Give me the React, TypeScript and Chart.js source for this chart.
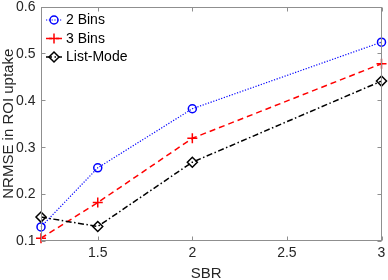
import React, { useEffect, useRef } from "react";
import { Chart, registerables } from "chart.js";

Chart.register(...registerables);

const sbr = [1.2, 1.5, 2, 3];
const twoBins = [0.13, 0.256, 0.382, 0.524];
const threeBins = [0.106, 0.182, 0.319, 0.478];
const listMode = [0.151, 0.131, 0.268, 0.441];
const xTicks = [1.5, 2, 2.5, 3];
const yTicks = [0.1, 0.2, 0.3, 0.4, 0.5, 0.6];
const xTickLabels = ["1.5", "2", "2.5", "3"];
const yTickLabels = ["0.1", "0.2", "0.3", "0.4", "0.5", "0.6"];
const seriesLabels = ["2 Bins", "3 Bins", "List-Mode"];
const xTitle = "SBR";
const yTitle = "NRMSE in ROI uptake";

const FONT = "'Liberation Sans', Arial, Helvetica, sans-serif";
const AXIS_COLOR = "#8f8f8f";
const TEXT_COLOR = "#262626";

const boxPlugin = {
  id: "matlabBox",
  afterDraw(chart: any) {
    const { ctx, chartArea } = chart;
    const l = Math.round(chartArea.left) + 0.5;
    const r = Math.round(chartArea.right) - 0.5;
    const t = Math.round(chartArea.top) + 0.5;
    const b = Math.round(chartArea.bottom) - 0.5;
    ctx.save();
    ctx.strokeStyle = AXIS_COLOR;
    ctx.lineWidth = 1;
    ctx.setLineDash([]);
    ctx.strokeRect(l, t, r - l, b - t);
    const len = 4;
    ctx.beginPath();
    xTicks.forEach((v) => {
      const x = Math.round(chart.scales.x.getPixelForValue(v)) + 0.5;
      ctx.moveTo(x, b);
      ctx.lineTo(x, b - len);
      ctx.moveTo(x, t);
      ctx.lineTo(x, t + len);
    });
    yTicks.forEach((v) => {
      const y = Math.round(chart.scales.y.getPixelForValue(v)) + 0.5;
      ctx.moveTo(l, y);
      ctx.lineTo(l + len, y);
      ctx.moveTo(r, y);
      ctx.lineTo(r - len, y);
    });
    ctx.stroke();

    // tick labels
    ctx.fillStyle = TEXT_COLOR;
    ctx.font = `14px ${FONT}`;
    ctx.textBaseline = "middle";
    ctx.textAlign = "center";
    xTicks.forEach((v, i) => {
      ctx.fillText(xTickLabels[i], chart.scales.x.getPixelForValue(v), chartArea.bottom + 12.5);
    });
    ctx.textAlign = "right";
    yTicks.forEach((v, i) => {
      ctx.fillText(yTickLabels[i], chartArea.left - 5.5, chart.scales.y.getPixelForValue(v) + 0.5);
    });

    // axis titles
    ctx.font = `15px ${FONT}`;
    ctx.textAlign = "center";
    ctx.textBaseline = "middle";
    ctx.fillText(xTitle, (chartArea.left + chartArea.right) / 2 - 5, chartArea.bottom + 32.5);
    ctx.save();
    ctx.translate(8.5, (chartArea.top + chartArea.bottom) / 2);
    ctx.rotate(-Math.PI / 2);
    ctx.fillText(yTitle, 0, 0);
    ctx.restore();
    ctx.restore();
  },
  afterDatasetsDraw(chart: any) {
    const { ctx } = chart;
    const x0 = 46;
    const x1 = 62;
    const tx = 66;
    const rows = [20, 38.5, 57];
    ctx.save();
    chart.data.datasets.forEach((ds: any, i: number) => {
      const y = rows[i];
      ctx.strokeStyle = ds.borderColor;
      ctx.lineWidth = ds.borderWidth;
      ctx.setLineDash(ds.borderDash || []);
      ctx.beginPath();
      ctx.moveTo(x0, y);
      ctx.lineTo(x1, y);
      ctx.stroke();
      ctx.setLineDash([]);
      ctx.lineWidth = ds.pointBorderWidth;
      ctx.strokeStyle = ds.borderColor;
      ctx.beginPath();
      const c = (x0 + x1) / 2;
      const rr = ds.pointRadius;
      if (ds.pointStyle === "circle") {
        ctx.arc(c, y, rr, 0, Math.PI * 2);
      } else if (ds.pointStyle === "cross") {
        ctx.moveTo(c - rr, y);
        ctx.lineTo(c + rr, y);
        ctx.moveTo(c, y - rr);
        ctx.lineTo(c, y + rr);
      } else {
        ctx.moveTo(c - rr, y);
        ctx.lineTo(c, y - rr);
        ctx.lineTo(c + rr, y);
        ctx.lineTo(c, y + rr);
        ctx.closePath();
      }
      ctx.stroke();
      ctx.fillStyle = "#000";
      ctx.font = `14px ${FONT}`;
      ctx.textBaseline = "middle";
      ctx.textAlign = "left";
      ctx.fillText(seriesLabels[i], tx, y + 0.5);
    });
    ctx.restore();
  },
};

export default function App() {
  const ref = useRef<HTMLCanvasElement | null>(null);
  useEffect(() => {
    document.body.style.margin = "0";
    const toXY = (ys: number[]) => sbr.map((x, i) => ({ x, y: ys[i] }));
    const chart = new Chart(ref.current as HTMLCanvasElement, {
      type: "line",
      data: {
        datasets: [
          {
            label: seriesLabels[0],
            data: toXY(twoBins),
            borderColor: "#0000ff",
            borderWidth: 1.2,
            borderDash: [1.2, 1.6],
            pointStyle: "circle",
            pointRadius: 4,
            pointBorderWidth: 1.5,
            pointBackgroundColor: "rgba(0,0,0,0)",
            pointBorderColor: "#0000ff",
            order: 2,
          },
          {
            label: seriesLabels[1],
            data: toXY(threeBins),
            borderColor: "#ff0000",
            borderWidth: 1.5,
            borderDash: [6, 4],
            pointStyle: "cross",
            pointRadius: 5,
            pointBorderWidth: 1.5,
            pointBackgroundColor: "rgba(0,0,0,0)",
            pointBorderColor: "#ff0000",
            order: 1,
          },
          {
            label: seriesLabels[2],
            data: toXY(listMode),
            borderColor: "#000000",
            borderWidth: 1.5,
            borderDash: [6, 2.5, 1.5, 2.5],
            pointStyle: "rectRot",
            pointRadius: 5,
            pointBorderWidth: 1.5,
            pointBackgroundColor: "rgba(0,0,0,0)",
            pointBorderColor: "#000000",
            order: 0,
          },
        ] as any,
      },
      options: {
        animation: false,
        responsive: false,
        maintainAspectRatio: false,
        clip: false as any,
        layout: { padding: { left: 0, right: 6, top: 5, bottom: 0 } },
        plugins: { legend: { display: false }, tooltip: { enabled: false } },
        elements: { line: { tension: 0, fill: false } },
        scales: {
          x: {
            type: "linear",
            min: 1.2,
            max: 3,
            grid: { display: false },
            border: { display: false },
            ticks: { display: false },
            title: { display: false },
            afterFit: (s: any) => {
              s.height = 39;
              s.paddingLeft = 0;
              s.paddingRight = 0;
            },
          },
          y: {
            type: "linear",
            min: 0.1,
            max: 0.6,
            grid: { display: false },
            border: { display: false },
            ticks: { display: false },
            title: { display: false },
            afterFit: (s: any) => {
              s.width = 41;
              s.paddingTop = 0;
              s.paddingBottom = 0;
            },
          },
        },
      },
      plugins: [boxPlugin],
    });
    return () => chart.destroy();
  }, []);
  return (
    <div style={{ width: 388, height: 280 }}>
      <canvas ref={ref} width={388} height={280} style={{ display: "block", width: 388, height: 280 }} />
    </div>
  );
}
